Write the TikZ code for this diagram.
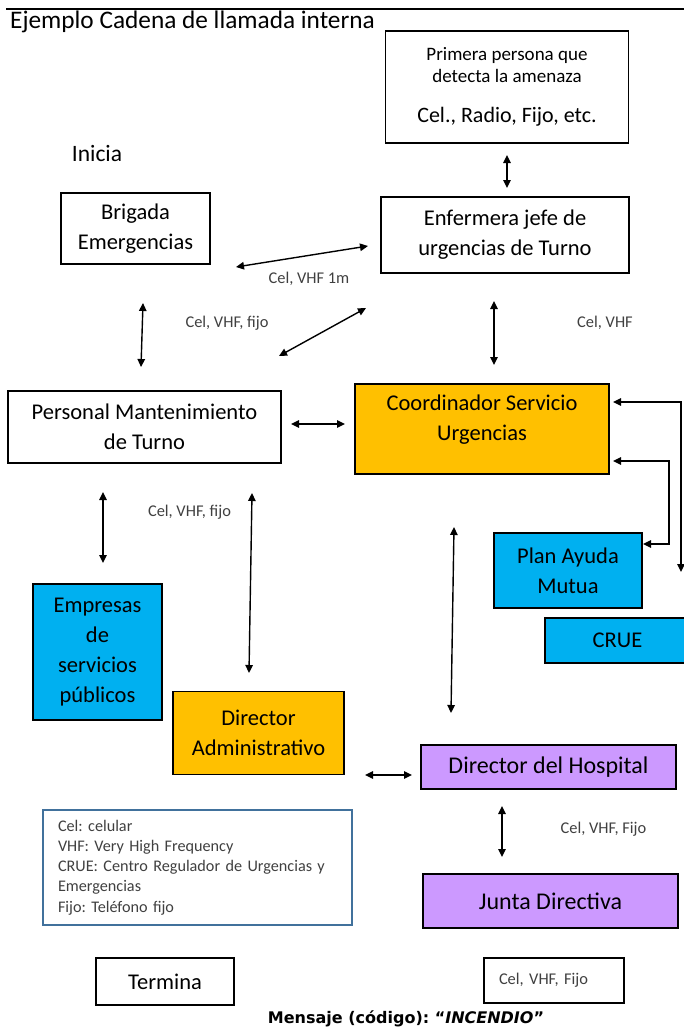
\documentclass[tikz,border=0pt]{standalone}
\usepackage{fontspec}
\setmainfont{Carlito}
\newfontfamily\mensajefont{DejaVu Sans}
\usetikzlibrary{arrows.meta}
\frenchspacing

\definecolor{naranja}{HTML}{FFC000}
\definecolor{celeste}{HTML}{00B0F0}
\definecolor{lila}{HTML}{CC99FF}
\definecolor{borde}{HTML}{41719C}
\definecolor{gris}{HTML}{404040}

\begin{document}
\begin{tikzpicture}[x=1pt,y=-1pt,
    caja/.style={draw=black,line width=1.6pt,align=center,inner sep=0pt,font=\fontsize{22.5}{30}\selectfont},
    grande/.style={font=\fontsize{24}{30}\selectfont},
    flecha/.style={{Triangle[length=8pt,width=7.5pt]}-{Triangle[length=8pt,width=7.5pt]},line width=1.4pt},
    etiqueta/.style={text=gris,inner sep=0pt,font=\fontsize{16.4}{19}\selectfont}]
    \useasboundingbox (0,0) rectangle (684,1034);
    \fill[white] (0,0) rectangle (684,1034);
    %titulo
    \draw[line width=2pt] (6,9) -- (684,9);
    \node[anchor=west,inner sep=0pt,font=\fontsize{25.3}{30}\selectfont] (titulo) at (10,22) {Ejemplo Cadena de llamada interna};
    \node[inner sep=0pt,font=\fontsize{23.5}{28}\selectfont] (inicia) at (97,153) {Inicia};
    %cajas
    \node[caja,minimum width=243pt,minimum height=112pt,font=\fontsize{19}{22}\selectfont] (primera) at (507,87)
        {Primera persona que\\detecta la amenaza\\[18pt]{\fontsize{22}{26}\selectfont Cel., Radio, Fijo, etc.}};
    \node[caja,minimum width=149pt,minimum height=71pt] (brigada) at (135.5,228.5) {Brigada\\Emergencias};
    \node[caja,minimum width=248pt,minimum height=76pt] (enfermera) at (505,235) {Enfermera jefe de\\urgencias de Turno};
    \node[caja,minimum width=273pt,minimum height=72pt] (personal) at (144.5,427) {Personal Mantenimiento\\de Turno};
    \node[caja,fill=naranja,minimum width=254pt,minimum height=90pt] (coord) at (482,429) {};
    \node[caja,draw=none] (coordtxt) at (482,420) {Coordinador Servicio\\Urgencias};
    \node[caja,fill=celeste,minimum width=148pt,minimum height=75pt] (plan) at (568,570.5) {Plan Ayuda\\Mutua};
    \node[caja,fill=celeste,minimum width=145pt,minimum height=45pt] (crue) at (617.5,640.5) {CRUE};
    \node[caja,fill=celeste,minimum width=129pt,minimum height=136pt] (empresas) at (97.5,652) {Empresas\\de\\servicios\\públicos};
    \node[caja,fill=naranja,minimum width=171pt,minimum height=83pt] (diradm) at (258.5,733) {Director\\Administrativo};
    \node[caja,grande,fill=lila,minimum width=255pt,minimum height=44pt] (dirhosp) at (548.5,767) {Director del Hospital};
    \node[caja,grande,fill=lila,minimum width=255pt,minimum height=54pt] (junta) at (550.5,901) {Junta Directiva};
    \node[caja,minimum width=138pt,minimum height=47pt] (termina) at (165,981.5) {Termina};
    \node[caja,etiqueta,text=gris,align=left,text width=110pt,inner xsep=15pt,minimum height=45pt] (medios) at (554,980.5) {Cel, VHF, Fijo};
    %leyenda
    \node[draw=borde,line width=1.5pt,align=left,text width=279pt,inner xsep=15pt,minimum height=115pt,
        text=gris,font=\fontsize{16.2}{20.2}\selectfont] (leyenda) at (197.5,867.5)
        {Cel: celular\\VHF: Very High Frequency\\CRUE: Centro Regulador de Urgencias y\\Emergencias\\Fijo: Teléfono fijo};
    \node[inner sep=0pt,font=\mensajefont\bfseries\fontsize{16}{18}\selectfont] (mensaje) at (406,1019)
        {Mensaje (código): “\textit{INCENDIO}”};
    %extremos de las flechas
    \coordinate (p1) at (507,155);   \coordinate (e1) at (507,188);
    \coordinate (b1) at (236,267);   \coordinate (e2) at (368,246);
    \coordinate (b2) at (143,303);   \coordinate (m1) at (141,367);
    \coordinate (m2) at (279,356);   \coordinate (e3) at (366,308);
    \coordinate (e4) at (494,301);   \coordinate (c1) at (494,365);
    \coordinate (m3) at (291,424);   \coordinate (c2) at (345,424);
    \coordinate (c3) at (613,402);   \coordinate (r1) at (681,572);
    \coordinate (c4) at (613,461);   \coordinate (a1) at (643,544);
    \coordinate (m4) at (103,492);   \coordinate (s1) at (103,563);
    \coordinate (m5) at (252,493);   \coordinate (d1) at (249,673);
    \coordinate (c5) at (454,527);   \coordinate (h1) at (451,713);
    \coordinate (d2) at (365,775);   \coordinate (h2) at (412,775);
    \coordinate (h3) at (502,806);   \coordinate (j1) at (502,857);
    %flechas
    \draw[flecha] (p1) -- (e1);
    \draw[flecha] (b1) -- (e2);
    \draw[flecha] (b2) -- (m1);
    \draw[flecha] (m2) -- (e3);
    \draw[flecha] (e4) -- (c1);
    \draw[flecha] (m3) -- (c2);
    \draw[flecha] (c3) -| (r1);
    \draw[flecha] (c4) -- (669,461) |- (a1);
    \draw[flecha] (m4) -- (s1);
    \draw[flecha] (m5) -- (d1);
    \draw[flecha] (c5) -- (h1);
    \draw[flecha] (d2) -- (h2);
    \draw[flecha] (h3) -- (j1);
    %etiquetas
    \node[etiqueta] (et1) at (309,279) {Cel, VHF 1m};
    \node[etiqueta] (et2) at (227,323) {Cel, VHF, fijo};
    \node[etiqueta] (et3) at (605,323) {Cel, VHF};
    \node[etiqueta] (et4) at (189.5,512) {Cel, VHF, fijo};
    \node[etiqueta] (et5) at (603.5,829) {Cel, VHF, Fijo};
\end{tikzpicture}
\end{document}
